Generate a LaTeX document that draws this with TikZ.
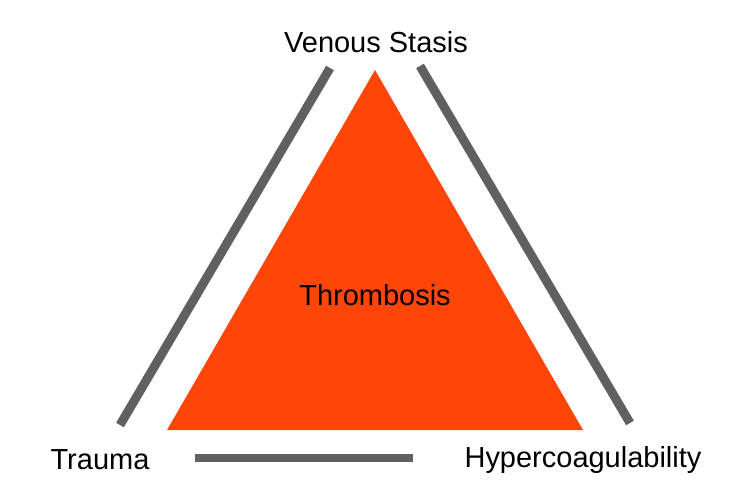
\documentclass[tikz,border=0pt]{standalone}
\usepackage{fontspec}
\setmainfont{Liberation Sans}
\definecolor{tri}{HTML}{FF4508}
\definecolor{bar}{HTML}{606060}
\begin{document}
\begin{tikzpicture}[x=0.02cm,y=-0.02cm,
  bar/.style={draw=bar,line width=9*0.567pt},
  lbl/.style={font=\fontsize{16.5}{19}\selectfont,inner sep=0pt}]
\useasboundingbox (0,0) rectangle (750,500);
\fill[tri] (375,70) -- (167,430) -- (583,430) -- cycle;
\coordinate (l1) at (330,68); \coordinate (l2) at (120,425);
\coordinate (r1) at (420,66); \coordinate (r2) at (630,423);
\coordinate (b1) at (195,458); \coordinate (b2) at (413,458);
\draw[bar] (l1) -- (l2);
\draw[bar] (r1) -- (r2);
\draw[bar] (b1) -- (b2);
\node[lbl] (vs) at (376,42) {Venous Stasis};
\node[lbl] (th) at (375,295) {Thrombosis};
\node[lbl] (tr) at (100,460) {Trauma};
\node[lbl] (hc) at (583,460) {Hypercoagulability};
\end{tikzpicture}
\end{document}
